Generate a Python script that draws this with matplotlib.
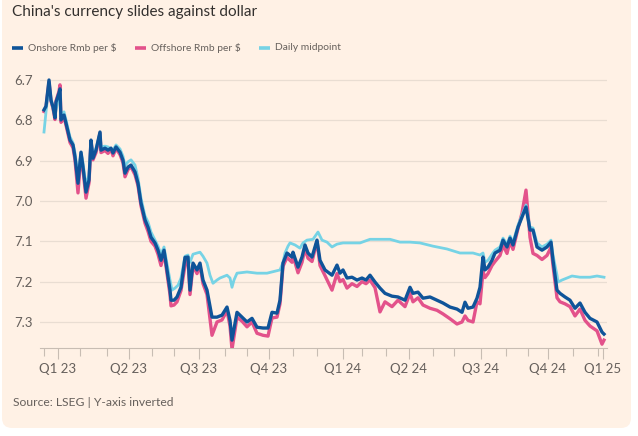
import matplotlib
matplotlib.use("Agg")
import matplotlib.pyplot as plt
from matplotlib.patches import FancyBboxPatch
from matplotlib.lines import Line2D
from matplotlib.transforms import IdentityTransform

# ---------------- data (time index ~ trading-day position, Rmb per $) ----------------
onshore_t = [0, 2, 5, 7, 9, 11, 12, 15, 16, 17, 20, 22, 26, 29, 31, 34, 37, 39, 42, 45,
             47, 49, 52, 56, 57, 61, 64, 67, 69, 72, 76, 79, 81, 84, 87, 91, 94, 97, 101, 104,
             107, 111, 114, 117, 120, 122, 126, 127, 130, 133, 137, 141, 144, 146, 149, 153, 156, 159, 163, 168,
             173, 178, 183, 186, 188, 193, 198, 203, 208, 213, 219, 224, 228, 233, 236, 239, 243, 248, 249, 254,
             258, 261, 264, 268, 273, 276, 281, 288, 293, 296, 299, 303, 308, 313, 318, 322, 326, 331, 336, 341,
             348, 354, 361, 366, 369, 374, 379, 386, 393, 399, 406, 413, 418, 421, 424, 429, 433, 436, 439, 441,
             444, 448, 451, 456, 459, 463, 466, 469, 474, 478, 482, 486, 489, 493, 498, 503, 507, 509, 513, 516,
             521, 526, 531, 536, 541, 546, 553, 558, 560]
onshore = [6.774, 6.765, 6.700, 6.750, 6.767, 6.794, 6.755, 6.732, 6.722, 6.799, 6.787, 6.807, 6.849, 6.861, 6.891, 6.956, 6.879, 6.916, 6.978, 6.948,
           6.849, 6.894, 6.874, 6.829, 6.874, 6.869, 6.874, 6.869, 6.881, 6.866, 6.879, 6.899, 6.931, 6.916, 6.911, 6.928, 6.956, 7.005, 7.047, 7.065,
           7.090, 7.104, 7.122, 7.147, 7.122, 7.154, 7.221, 7.246, 7.246, 7.238, 7.214, 7.140, 7.139, 7.221, 7.154, 7.171, 7.154, 7.196, 7.221, 7.288,
           7.288, 7.283, 7.263, 7.296, 7.345, 7.276, 7.288, 7.300, 7.291, 7.313, 7.315, 7.315, 7.276, 7.278, 7.246, 7.154, 7.129, 7.139, 7.127, 7.164,
           7.139, 7.109, 7.129, 7.139, 7.097, 7.147, 7.171, 7.184, 7.159, 7.179, 7.171, 7.191, 7.189, 7.196, 7.191, 7.196, 7.184, 7.201, 7.216, 7.229,
           7.236, 7.238, 7.246, 7.214, 7.229, 7.226, 7.241, 7.238, 7.246, 7.253, 7.263, 7.268, 7.276, 7.251, 7.266, 7.263, 7.241, 7.214, 7.139, 7.171,
           7.164, 7.147, 7.129, 7.122, 7.097, 7.114, 7.092, 7.109, 7.065, 7.040, 7.015, 7.072, 7.072, 7.114, 7.122, 7.114, 7.102, 7.147, 7.221, 7.229,
           7.238, 7.246, 7.266, 7.253, 7.276, 7.291, 7.300, 7.325, 7.330]

offshore = [6.778, 6.768, 6.705, 6.752, 6.770, 6.798, 6.752, 6.728, 6.712, 6.805, 6.792, 6.812, 6.855, 6.868, 6.898, 6.980, 6.885, 6.922, 6.993, 6.955,
            6.852, 6.898, 6.880, 6.832, 6.880, 6.875, 6.882, 6.872, 6.888, 6.870, 6.885, 6.905, 6.940, 6.922, 6.915, 6.935, 6.962, 7.012, 7.055, 7.075,
            7.100, 7.112, 7.132, 7.160, 7.128, 7.162, 7.232, 7.260, 7.258, 7.250, 7.222, 7.160, 7.145, 7.232, 7.160, 7.180, 7.160, 7.205, 7.232, 7.333,
            7.300, 7.295, 7.272, 7.310, 7.368, 7.288, 7.298, 7.312, 7.300, 7.328, 7.333, 7.335, 7.290, 7.288, 7.255, 7.162, 7.140, 7.152, 7.135, 7.178,
            7.152, 7.118, 7.142, 7.150, 7.100, 7.160, 7.185, 7.221, 7.180, 7.200, 7.195, 7.216, 7.205, 7.212, 7.200, 7.205, 7.196, 7.215, 7.275, 7.250,
            7.262, 7.246, 7.262, 7.229, 7.250, 7.240, 7.258, 7.266, 7.271, 7.280, 7.292, 7.305, 7.300, 7.285, 7.296, 7.300, 7.250, 7.255, 7.175, 7.190,
            7.180, 7.160, 7.150, 7.135, 7.110, 7.130, 7.100, 7.120, 7.068, 7.030, 6.973, 7.090, 7.130, 7.135, 7.145, 7.135, 7.115, 7.160, 7.240, 7.250,
            7.255, 7.262, 7.285, 7.268, 7.296, 7.310, 7.322, 7.355, 7.345]

midpoint_t = [0, 2, 5, 7, 11, 15, 16, 17, 20, 22, 26, 29, 31, 34, 37, 39, 42, 45, 47, 49,
              52, 56, 57, 61, 64, 69, 72, 76, 79, 81, 84, 87, 91, 94, 97, 101, 104, 107, 111, 114,
              117, 120, 122, 126, 128, 131, 134, 137, 141, 144, 146, 149, 153, 156, 159, 163, 166, 169, 173, 176,
              183, 186, 188, 190, 193, 203, 213, 223, 236, 239, 241, 244, 246, 251, 256, 259, 263, 269, 274, 278,
              283, 288, 293, 299, 306, 316, 326, 336, 346, 356, 366, 376, 389, 403, 416, 429, 436, 439, 441, 444,
              448, 451, 456, 459, 463, 466, 469, 474, 478, 482, 486, 489, 493, 498, 503, 507, 509, 513, 514, 518,
              523, 528, 536, 546, 553, 560]
midpoint = [6.829, 6.779, 6.712, 6.750, 6.787, 6.737, 6.730, 6.787, 6.779, 6.799, 6.841, 6.856, 6.881, 6.936, 6.879, 6.906, 6.961, 6.936, 6.854, 6.886,
            6.869, 6.832, 6.866, 6.864, 6.866, 6.874, 6.861, 6.871, 6.889, 6.913, 6.903, 6.898, 6.911, 6.943, 6.993, 7.037, 7.052, 7.077, 7.097, 7.112,
            7.132, 7.114, 7.142, 7.196, 7.221, 7.216, 7.209, 7.191, 7.137, 7.134, 7.152, 7.132, 7.129, 7.127, 7.137, 7.154, 7.184, 7.204, 7.196, 7.191,
            7.184, 7.191, 7.214, 7.196, 7.179, 7.176, 7.179, 7.179, 7.171, 7.152, 7.129, 7.112, 7.104, 7.109, 7.117, 7.104, 7.097, 7.095, 7.077, 7.097,
            7.102, 7.114, 7.107, 7.104, 7.104, 7.104, 7.095, 7.095, 7.095, 7.102, 7.102, 7.104, 7.112, 7.119, 7.129, 7.129, 7.134, 7.129, 7.152, 7.147,
            7.132, 7.122, 7.114, 7.092, 7.107, 7.087, 7.102, 7.060, 7.035, 7.010, 7.065, 7.067, 7.104, 7.114, 7.107, 7.097, 7.134, 7.184, 7.201, 7.196,
            7.191, 7.186, 7.189, 7.189, 7.186, 7.189]

quarter_labels = ["Q1 23", "Q2 23", "Q3 23", "Q4 23", "Q1 24", "Q2 24", "Q3 24", "Q4 24", "Q1 25"]
quarter_pos = [14, 85, 155, 225, 299, 365, 437, 504, 559]
month_pos = [0, 36, 63, 108, 130, 181, 203, 249, 273, 318, 342, 389, 410, 462, 484, 529, 554]
y_ticks = [6.7, 6.8, 6.9, 7.0, 7.1, 7.2, 7.3]

# ---------------- styling ----------------
BG = "#FFF1E5"
TXT = "#66605C"
C_ON = "#0F5499"
C_OFF = "#E3528B"
C_MID = "#76D3E5"
FONT = "Lato"
plt.rcParams["font.family"] = [FONT, "DejaVu Sans"]

W, H = 638, 436
fig = plt.figure(figsize=(W / 100, H / 100), dpi=100)
fig.patch.set_facecolor("white")

card = FancyBboxPatch((2, 8), 629, 440, boxstyle="round,pad=0,rounding_size=10",
                      transform=IdentityTransform(), facecolor=BG, edgecolor="none", zorder=-10)
fig.patches.append(card)

def fx(px):
    return px / W

def fy(py):
    return 1 - py / H

ax_left, ax_right, ax_top, ax_bottom = 40, 607, 72, 348
ax = fig.add_axes([fx(ax_left), fy(ax_bottom), fx(ax_right - ax_left), (ax_bottom - ax_top) / H])
ax.set_facecolor("none")
ax.set_zorder(1)

ax.plot(onshore_t, offshore, color=C_OFF, lw=2.4, solid_joinstyle="round", zorder=3)
ax.plot(midpoint_t, midpoint, color=C_MID, lw=2.0, solid_joinstyle="round", zorder=4)
ax.plot(onshore_t, onshore, color=C_ON, lw=2.4, solid_joinstyle="round", zorder=5)

ax.set_xlim(-4, 563)
ax.set_ylim(7.3645, 6.6802)

ax.set_yticks(y_ticks)
ax.set_yticklabels([f"{v:.1f}" for v in y_ticks])
ax.grid(axis="y", color="#E9DDD2", lw=0.9, zorder=1)
ax.tick_params(axis="y", length=0, pad=5, labelsize=9.5, labelcolor=TXT)

ax.set_xticks(quarter_pos)
ax.set_xticklabels(quarter_labels)
ax.set_xticks(month_pos, minor=True)
ax.tick_params(axis="x", which="major", length=8, width=0.8, color="#C8BDB3", labelsize=9.5,
               labelcolor=TXT, pad=3)
ax.tick_params(axis="x", which="minor", length=6, width=0.8, color="#C8BDB3")

for s in ["top", "right", "left"]:
    ax.spines[s].set_visible(False)
ax.spines["bottom"].set_color("#C8BDB3")
ax.spines["bottom"].set_linewidth(0.8)

# title
fig.text(fx(12), fy(12), "China's currency slides against dollar", fontsize=11,
         color="#33302E", va="center", ha="left")

# legend
legend_items = [("Onshore Rmb per $", C_ON, 12), ("Offshore Rmb per $", C_OFF, 135),
                ("Daily midpoint", C_MID, 259)]
for label, col, x0 in legend_items:
    fig.lines.append(Line2D([fx(x0), fx(x0 + 11)], [fy(48), fy(48)], transform=fig.transFigure,
                            color=col, lw=2.6, solid_capstyle="butt"))
    fig.text(fx(x0 + 16), fy(48), label, fontsize=7.4, color=TXT, va="center", ha="left")

# source
fig.text(fx(13), fy(402), "Source: LSEG | Y-axis inverted", fontsize=8.7, color=TXT,
         va="center", ha="left")

fig.savefig("out.png", dpi=100, facecolor=fig.get_facecolor())
